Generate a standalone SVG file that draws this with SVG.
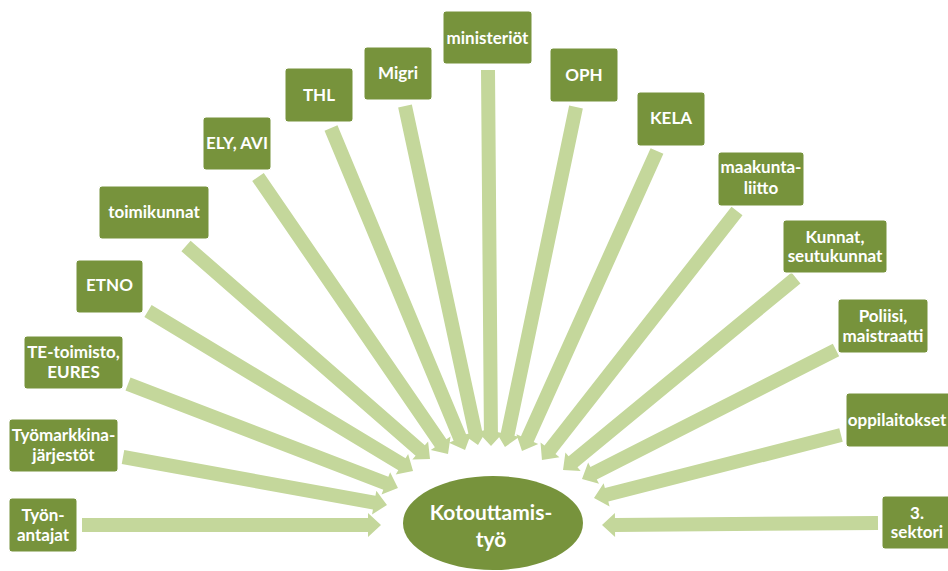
<svg xmlns="http://www.w3.org/2000/svg" width="948" height="571" viewBox="0 0 948 571">
<style>
.box{fill:#77933c;stroke:#ffffff;stroke-width:1}
.t{font-family:Lato,"Open Sans","Liberation Sans",sans-serif;font-weight:bold;font-size:17px;fill:#ffffff;text-anchor:middle}
.big{font-size:21px}
.arr{fill:#c4d79b}
</style>
<rect width="948" height="571" fill="#ffffff"/>
<g id="connectors">
<polygon class="arr" points="0,-7 286,-7 286,-12 299,0 286,12 286,7 0,7" transform="translate(82,525)"/>
<polygon class="arr" points="0,-7 255.3,-7 255.3,-12 268.3,0 255.3,12 255.3,7 0,7" transform="translate(123,457) rotate(10.30)"/>
<polygon class="arr" points="0,-7 276.3,-7 276.3,-12 289.3,0 276.3,12 276.3,7 0,7" transform="translate(128,384) rotate(21.07)"/>
<polygon class="arr" points="0,-7 296.6,-7 296.6,-12 309.6,0 296.6,12 296.6,7 0,7" transform="translate(148,311) rotate(31.12)"/>
<polygon class="arr" points="0,-7 310.9,-7 310.9,-12 323.9,0 310.9,12 310.9,7 0,7" transform="translate(186,246) rotate(41.12)"/>
<polygon class="arr" points="0,-7 322.9,-7 322.9,-12 335.9,0 322.9,12 322.9,7 0,7" transform="translate(258,177) rotate(55.55)"/>
<polygon class="arr" points="0,-7 335.8,-7 335.8,-12 348.8,0 335.8,12 335.8,7 0,7" transform="translate(331,128) rotate(67.4)"/>
<polygon class="arr" points="0,-7 333.8,-7 333.8,-12 346.8,0 333.8,12 333.8,7 0,7" transform="translate(405,106) rotate(77.85)"/>
<polygon class="arr" points="0,-7 363,-7 363,-12 376,0 363,12 363,7 0,7" transform="translate(488,70) rotate(89.54)"/>
<polygon class="arr" points="0,-7 334.3,-7 334.3,-12 347.3,0 334.3,12 334.3,7 0,7" transform="translate(576,107) rotate(101.8)"/>
<polygon class="arr" points="0,-7 316,-7 316,-12 329,0 316,12 316,7 0,7" transform="translate(657,151) rotate(114.23)"/>
<polygon class="arr" points="0,-7 303.3,-7 303.3,-12 316.3,0 303.3,12 303.3,7 0,7" transform="translate(737,211) rotate(128.07)"/>
<polygon class="arr" points="0,-7 288.9,-7 288.9,-12 301.9,0 288.9,12 288.9,7 0,7" transform="translate(796,278) rotate(140.51)"/>
<polygon class="arr" points="0,-7 271.9,-7 271.9,-12 284.9,0 271.9,12 271.9,7 0,7" transform="translate(836,350) rotate(153.07)"/>
<polygon class="arr" points="0,-7 241.9,-7 241.9,-12 254.9,0 241.9,12 241.9,7 0,7" transform="translate(841,435) rotate(165.69)"/>
<polygon class="arr" points="0,-7 263,-7 263,-12 276,0 263,12 263,7 0,7" transform="translate(878,523) rotate(179.58)"/>
</g>
<g id="center">
<ellipse cx="493" cy="523" rx="90" ry="47" fill="#77933c"/>
<text class="t big" x="491" y="520">Kotouttamis-</text>
<text class="t big" x="491" y="547">työ</text>
</g>
<g id="tyonantajat"><rect class="box" x="9" y="498" width="68" height="54" rx="3"/><text class="t" x="43" y="521">Työn-</text><text class="t" x="43" y="541">antajat</text></g>
<g id="tyomarkkina"><rect class="box" x="9" y="419" width="109" height="53" rx="3"/><text class="t" x="63.5" y="441">Työmarkkina-</text><text class="t" x="63.5" y="461">järjestöt</text></g>
<g id="te"><rect class="box" x="24" y="336" width="99" height="53" rx="3"/><text class="t" x="73.5" y="358">TE-toimisto,</text><text class="t" x="73.5" y="378">EURES</text></g>
<g id="etno"><rect class="box" x="76" y="260" width="67" height="53" rx="3"/><text class="t" x="109.5" y="291">ETNO</text></g>
<g id="toimikunnat"><rect class="box" x="99" y="186" width="110" height="53" rx="3"/><text class="t" x="154" y="218">toimikunnat</text></g>
<g id="ely"><rect class="box" x="203" y="117" width="68" height="53" rx="3"/><text class="t" x="237" y="149">ELY, AVI</text></g>
<g id="thl"><rect class="box" x="285" y="68" width="68" height="54" rx="3"/><text class="t" x="319" y="101">THL</text></g>
<g id="migri"><rect class="box" x="364" y="47" width="68" height="53" rx="3"/><text class="t" x="398" y="79">Migri</text></g>
<g id="ministeriot"><rect class="box" x="443" y="11" width="89" height="53" rx="3"/><text class="t" x="487.5" y="44">ministeriöt</text></g>
<g id="oph"><rect class="box" x="550" y="48" width="68" height="54" rx="3"/><text class="t" x="584" y="81">OPH</text></g>
<g id="kela"><rect class="box" x="637" y="92" width="68" height="54" rx="3"/><text class="t" x="671" y="124">KELA</text></g>
<g id="maakunta"><rect class="box" x="718" y="152" width="86" height="54" rx="3"/><text class="t" x="761" y="173">maakunta-</text><text class="t" x="761" y="194">liitto</text></g>
<g id="kunnat"><rect class="box" x="783" y="220" width="104" height="53" rx="3"/><text class="t" x="835" y="243">Kunnat,</text><text class="t" x="835" y="262">seutukunnat</text></g>
<g id="poliisi"><rect class="box" x="838" y="299" width="90" height="54" rx="3"/><text class="t" x="883" y="322">Poliisi,</text><text class="t" x="883" y="342">maistraatti</text></g>
<g id="oppilaitokset"><rect class="box" x="846" y="393" width="106" height="54" rx="3"/><text class="t" x="897" y="426">oppilaitokset</text></g>
<g id="sektori"><rect class="box" x="882" y="496" width="70" height="53" rx="3"/><text class="t" x="917" y="519">3.</text><text class="t" x="917" y="538">sektori</text></g>
</svg>
